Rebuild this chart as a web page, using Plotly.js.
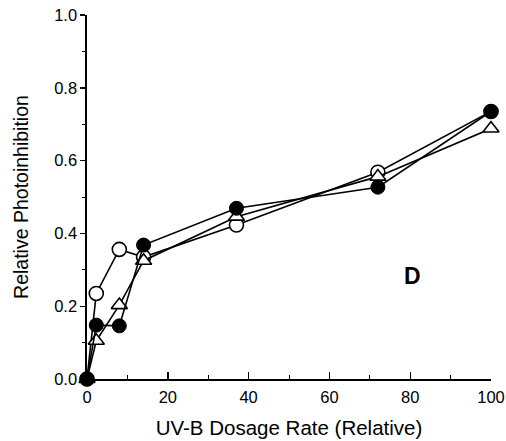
<!DOCTYPE html>
<html><head><meta charset="utf-8">
<script src="https://cdn.plot.ly/plotly-3.0.1.min.js"></script>
<style>html,body{margin:0;padding:0;background:#fff}#chart{width:506px;height:441px}</style>
</head><body><div id="chart"></div>
<script>
const dose = [0, 2.3, 8, 14, 37, 72, 100];
const openCircle = [0, 0.235, 0.356, 0.335, 0.423, 0.568, 0.735];
const openTriangle = [0, 0.105, 0.203, 0.325, 0.446, 0.556, 0.688];
const filledCircle = [0, 0.148, 0.146, 0.368, 0.469, 0.527, 0.735];
const xTicks = [0, 20, 40, 60, 80, 100];
const yTicks = [0, 0.2, 0.4, 0.6, 0.8, 1.0];
const panelLabel = 'D';

const lineStyle = {color: '#000', width: 1.6};
const traces = [
  {x: dose, y: openCircle, mode: 'lines+markers', line: lineStyle,
   marker: {symbol: 'circle', size: 14, color: '#fff', line: {color: '#000', width: 1.6}}, cliponaxis: false},
  {x: dose, y: openTriangle, mode: 'lines+markers', line: lineStyle,
   marker: {symbol: 'triangle-up', size: 14, color: '#fff', line: {color: '#000', width: 1.6}}, cliponaxis: false},
  {x: dose, y: filledCircle, mode: 'lines+markers', line: lineStyle,
   marker: {symbol: 'circle', size: 14, color: '#000', line: {color: '#000', width: 1}}, cliponaxis: false}
];
const font = {family: 'Liberation Sans, Arial, sans-serif', color: '#000'};
const layout = {
  width: 506, height: 441,
  margin: {l: 87, r: 15, t: 15, b: 62},
  paper_bgcolor: '#fff', plot_bgcolor: '#fff',
  showlegend: false,
  font: font,
  xaxis: {
    range: [0, 100], tickvals: xTicks, ticktext: xTicks.map(String),
    showgrid: false, zeroline: false, showline: true, linecolor: '#000', linewidth: 1.6,
    ticks: 'inside', ticklen: 7, tickwidth: 1.4, tickcolor: '#000',
    minor: {dtick: 10, tick0: 0, ticks: 'inside', ticklen: 4, tickwidth: 1, tickcolor: '#000', showgrid: false},
    tickfont: {size: 16.5, family: font.family}, ticklabelstandoff: 3,
    title: {text: 'UV-B Dosage Rate (Relative)', font: {size: 20.5, family: font.family}, standoff: 15}
  },
  yaxis: {
    range: [0, 1.0], tickvals: yTicks, ticktext: yTicks.map(v => v.toFixed(1)),
    showgrid: false, zeroline: false, showline: true, linecolor: '#000', linewidth: 1.6,
    ticks: 'outside', ticklen: 5, tickwidth: 1.4, tickcolor: '#000',
    minor: {dtick: 0.1, tick0: 0, ticks: 'outside', ticklen: 3, tickwidth: 1, tickcolor: '#000', showgrid: false},
    tickfont: {size: 16.5, family: font.family},
    title: {text: 'Relative Photoinhibition', font: {size: 19.5, family: font.family}, standoff: 20}
  },
  annotations: [{x: 80.6, y: 0.282, xref: 'x', yref: 'y', text: '<b>' + panelLabel + '</b>', showarrow: false,
    font: {size: 23, family: font.family, color: '#000'}}]
};
Plotly.newPlot('chart', traces, layout, {displayModeBar: false, staticPlot: true});
</script></body></html>
